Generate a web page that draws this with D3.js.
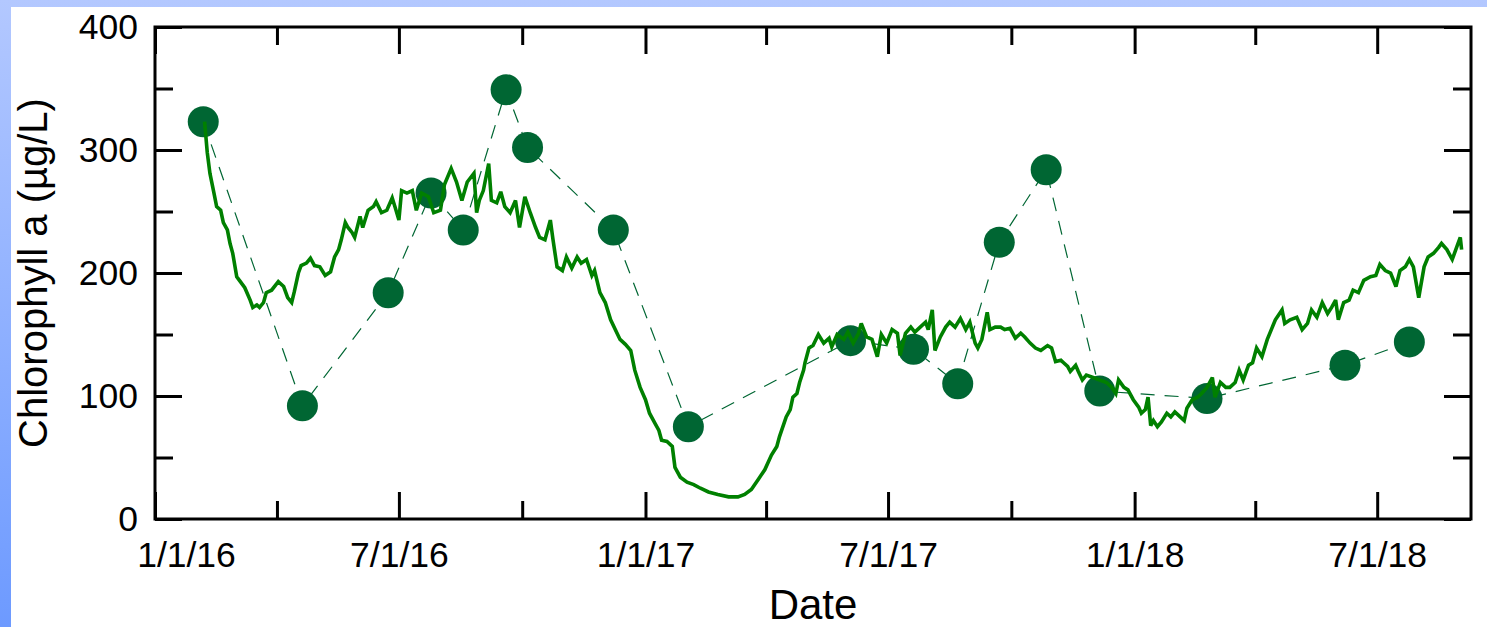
<!DOCTYPE html>
<html>
<head>
<meta charset="utf-8">
<script src="https://cdn.jsdelivr.net/npm/d3@7"></script>
<style>
  html, body { margin: 0; padding: 0; background: #fff; }
  svg { display: block; font-family: "Liberation Sans", Arial, Helvetica, sans-serif; }
</style>
</head>
<body>
<svg id="chart" width="1487" height="627"></svg>
<script>
// ---- axis definitions ----
const yMajorTicks = [0, 100, 200, 300, 400];
const yMinorTicks = [50, 150, 250, 350];
const xMajorDates = ["2016-01-01", "2016-07-01", "2017-01-01", "2017-07-01", "2018-01-01", "2018-07-01"];
const xMajorLabels = ["1/1/16", "7/1/16", "1/1/17", "7/1/17", "1/1/18", "7/1/18"];
const xMinorDates = ["2016-04-01", "2016-10-01", "2017-04-01", "2017-10-01", "2018-04-01"];
const xDomain = ["2016-01-01", "2018-09-09"];
const yDomain = [0, 400];

// ---- discrete grab samples (Chlorophyll a, µg/L) ----
const sampleDates = [
  "2016-02-06", "2016-04-20", "2016-06-23", "2016-07-25", "2016-08-18", "2016-09-19",
  "2016-10-05", "2016-12-08", "2017-02-02", "2017-06-03", "2017-07-20", "2017-08-22",
  "2017-09-22", "2017-10-27", "2017-12-06", "2018-02-24", "2018-06-07", "2018-07-25"
];
const sampleChl = [
  323, 92, 184, 265, 235, 349,
  302, 235, 75, 145, 138, 110,
  225, 284, 104, 98, 125, 144
];

// ---- continuous sonde record: days after 1 Jan 2016 and Chlorophyll a ----
const sensorStart = "2016-01-01";
const sensorDay = [
  37, 39, 41, 44, 46, 49, 51, 54, 56, 58, 61, 63, 67, 71, 73, 76, 78, 81, 83, 87,
  92, 96, 99, 102, 104, 107, 109, 113, 116, 119, 123, 127, 131, 134, 137, 139, 142, 144, 147, 149,
  153, 155, 159, 163, 165, 169, 173, 177, 179, 182, 184, 188, 192, 195, 199, 204, 208, 213, 216, 221,
  225, 229, 233, 238, 240, 242, 245, 249, 251, 255, 258, 261, 265, 269, 272, 276, 280, 284, 287, 291,
  295, 297, 300, 304, 307, 311, 315, 318, 322, 326, 328, 332, 336, 340, 343, 347, 351, 355, 358, 362,
  366, 369, 373, 376, 378, 382, 386, 388, 392, 397, 402, 407, 413, 420, 428, 435, 440, 445, 450, 455,
  460, 464, 466, 471, 474, 476, 479, 481, 484, 485, 488, 491, 495, 499, 503, 505, 509, 514, 517, 521,
  525, 527, 531, 535, 539, 542, 546, 550, 554, 556, 560, 564, 567, 571, 575, 577, 580, 582, 586, 590,
  593, 597, 601, 605, 608, 612, 614, 617, 621, 623, 627, 631, 634, 638, 642, 646, 649, 653, 657, 661,
  666, 669, 672, 676, 678, 681, 683, 687, 689, 692, 695, 700, 705, 710, 714, 717, 719, 723, 726, 730,
  734, 736, 739, 741, 743, 745, 748, 751, 755, 758, 761, 765, 768, 770, 774, 778, 781, 785, 789, 791,
  795, 799, 802, 806, 809, 812, 816, 819, 822, 826, 830, 833, 836, 841, 843, 847, 852, 856, 860, 863,
  867, 871, 875, 878, 881, 883, 887, 891, 894, 898, 902, 907, 911, 914, 918, 922, 926, 929, 933, 936,
  939, 943, 947, 950, 954, 958, 960, 964, 968, 972, 974, 975
];
const sensorChl = [
  323, 298, 281, 265, 254, 251, 241, 235, 224, 216, 197, 194, 188, 178, 172, 174, 172, 176, 184, 186,
  193, 189, 180, 176, 185, 200, 206, 208, 212, 206, 205, 198, 201, 213, 219, 227, 241, 237, 233, 229,
  246, 237, 251, 254, 258, 249, 251, 261, 254, 243, 267, 265, 267, 251, 265, 262, 249, 251, 272, 285,
  274, 259, 274, 281, 249, 259, 267, 289, 259, 257, 266, 254, 249, 259, 237, 262, 249, 237, 229, 227,
  243, 227, 205, 202, 213, 204, 213, 208, 211, 198, 202, 184, 176, 162, 155, 146, 142, 137, 121, 107,
  97, 86, 78, 72, 64, 63, 59, 42, 34, 30, 28, 25, 22, 20, 18, 18, 20, 24, 32, 40,
  52, 59, 67, 83, 89, 99, 102, 111, 121, 127, 139, 141, 150, 143, 147, 140, 150, 146, 152, 143,
  151, 159, 148, 146, 132, 150, 143, 154, 151, 133, 151, 156, 152, 156, 160, 154, 170, 137, 148, 156,
  160, 156, 163, 154, 160, 143, 139, 146, 168, 154, 156, 156, 154, 155, 147, 151, 148, 143, 139, 137,
  141, 139, 128, 129, 127, 124, 120, 125, 120, 113, 117, 115, 113, 111, 107, 102, 113, 107, 105, 97,
  91, 86, 89, 99, 76, 80, 75, 79, 86, 83, 87, 83, 80, 90, 97, 99, 102, 107, 115, 99,
  111, 107, 107, 111, 121, 113, 125, 127, 139, 132, 146, 154, 162, 170, 159, 162, 164, 154, 159, 170,
  164, 176, 167, 172, 178, 162, 176, 178, 186, 184, 194, 197, 198, 207, 202, 200, 189, 202, 205, 211,
  205, 180, 205, 213, 216, 221, 224, 219, 211, 223, 229, 219
];

// ---- layout ----
const W = 1487, H = 627;
const plot = { left: 155, top: 27, right: 1471, bottom: 519 };
const majorLen = 27, minorLen = 18;

const parse = d3.utcParse("%Y-%m-%d");
const startDate = parse(sensorStart);
const sensor = sensorDay.map((d, i) => ({ date: d3.utcDay.offset(startDate, d), v: sensorChl[i] }));
const samples = sampleDates.map((d, i) => ({ date: parse(d), v: sampleChl[i] }));

const x = d3.scaleUtc().domain(xDomain.map(parse)).range([plot.left, plot.right]);
const y = d3.scaleLinear().domain(yDomain).range([plot.bottom, plot.top]);

const svg = d3.select("#chart");

// page background with the blue left/top border
const defs = svg.append("defs");
const grad = defs.append("linearGradient").attr("id", "edge").attr("x1", 0).attr("y1", 0).attr("x2", 0).attr("y2", 1);
grad.append("stop").attr("offset", "0%").attr("stop-color", "#b3c8ff");
grad.append("stop").attr("offset", "100%").attr("stop-color", "#6d9aff");
svg.append("rect").attr("width", W).attr("height", H).attr("fill", "url(#edge)");
svg.append("rect").attr("x", 11).attr("y", 7).attr("width", W - 11).attr("height", H - 7).attr("fill", "#fff");

// ---- axes (ticks point inward on all four sides) ----
function styleAxis(g, fontSize) {
  g.select(".domain").remove();
  g.selectAll(".tick line").attr("stroke", "#000").attr("stroke-width", 3);
  g.selectAll(".tick text")
    .attr("fill", "#000")
    .attr("font-family", "'Liberation Sans', Arial, Helvetica, sans-serif")
    .attr("font-size", fontSize);
  g.attr("font-family", null).attr("font-size", null);
}

const majorX = xMajorDates.map(parse);
const minorX = xMinorDates.map(parse);

// bottom
const gBottom = svg.append("g").attr("transform", `translate(0,${plot.bottom})`)
  .call(d3.axisBottom(x).tickValues(majorX).tickSize(-majorLen).tickSizeOuter(0)
    .tickPadding(23).tickFormat((d, i) => xMajorLabels[i]));
styleAxis(gBottom, 35.5);
gBottom.selectAll(".tick text").filter((d, i) => i === 0).attr("dx", 31);
const gBottomMinor = svg.append("g").attr("transform", `translate(0,${plot.bottom})`)
  .call(d3.axisBottom(x).tickValues(minorX).tickSize(-minorLen).tickSizeOuter(0).tickFormat(""));
styleAxis(gBottomMinor, 0);

// top
const gTop = svg.append("g").attr("transform", `translate(0,${plot.top})`)
  .call(d3.axisTop(x).tickValues(majorX).tickSize(-majorLen).tickSizeOuter(0).tickFormat(""));
styleAxis(gTop, 0);
const gTopMinor = svg.append("g").attr("transform", `translate(0,${plot.top})`)
  .call(d3.axisTop(x).tickValues(minorX).tickSize(-minorLen).tickSizeOuter(0).tickFormat(""));
styleAxis(gTopMinor, 0);

// left
const gLeft = svg.append("g").attr("transform", `translate(${plot.left},0)`)
  .call(d3.axisLeft(y).tickValues(yMajorTicks).tickSize(-majorLen).tickSizeOuter(0)
    .tickPadding(17).tickFormat(d3.format("d")));
styleAxis(gLeft, 35.5);
const gLeftMinor = svg.append("g").attr("transform", `translate(${plot.left},0)`)
  .call(d3.axisLeft(y).tickValues(yMinorTicks).tickSize(-minorLen).tickSizeOuter(0).tickFormat(""));
styleAxis(gLeftMinor, 0);

// right
const gRight = svg.append("g").attr("transform", `translate(${plot.right},0)`)
  .call(d3.axisRight(y).tickValues(yMajorTicks).tickSize(-majorLen).tickSizeOuter(0).tickFormat(""));
styleAxis(gRight, 0);
const gRightMinor = svg.append("g").attr("transform", `translate(${plot.right},0)`)
  .call(d3.axisRight(y).tickValues(yMinorTicks).tickSize(-minorLen).tickSizeOuter(0).tickFormat(""));
styleAxis(gRightMinor, 0);

// frame
svg.append("rect")
  .attr("x", plot.left).attr("y", plot.top)
  .attr("width", plot.right - plot.left).attr("height", plot.bottom - plot.top)
  .attr("fill", "none").attr("stroke", "#000").attr("stroke-width", 3);

// ---- data marks ----
const line = d3.line().x(d => x(d.date)).y(d => y(d.v));

// dashed connector through the grab samples
svg.append("path").datum(samples)
  .attr("d", line)
  .attr("fill", "none")
  .attr("stroke", "#006633")
  .attr("stroke-width", 1.2)
  .attr("stroke-dasharray", "14,10");

// grab sample markers
svg.append("g").selectAll("circle").data(samples).join("circle")
  .attr("cx", d => x(d.date)).attr("cy", d => y(d.v))
  .attr("r", 15.5)
  .attr("fill", "#006633");

// continuous sonde trace
svg.append("path").datum(sensor)
  .attr("d", line)
  .attr("fill", "none")
  .attr("stroke", "#008000")
  .attr("stroke-width", 3.6)
  .attr("stroke-linejoin", "miter")
  .attr("stroke-miterlimit", 3);

// ---- titles ----
svg.append("text")
  .attr("x", (plot.left + plot.right) / 2).attr("y", 619)
  .attr("text-anchor", "middle")
  .attr("font-size", 42)
  .attr("fill", "#000")
  .text("Date");

svg.append("text")
  .attr("transform", `translate(47,${(plot.top + plot.bottom) / 2}) rotate(-90)`)
  .attr("text-anchor", "middle")
  .attr("font-size", 40)
  .attr("fill", "#000")
  .text("Chlorophyll a (µg/L)");
</script>
</body>
</html>
